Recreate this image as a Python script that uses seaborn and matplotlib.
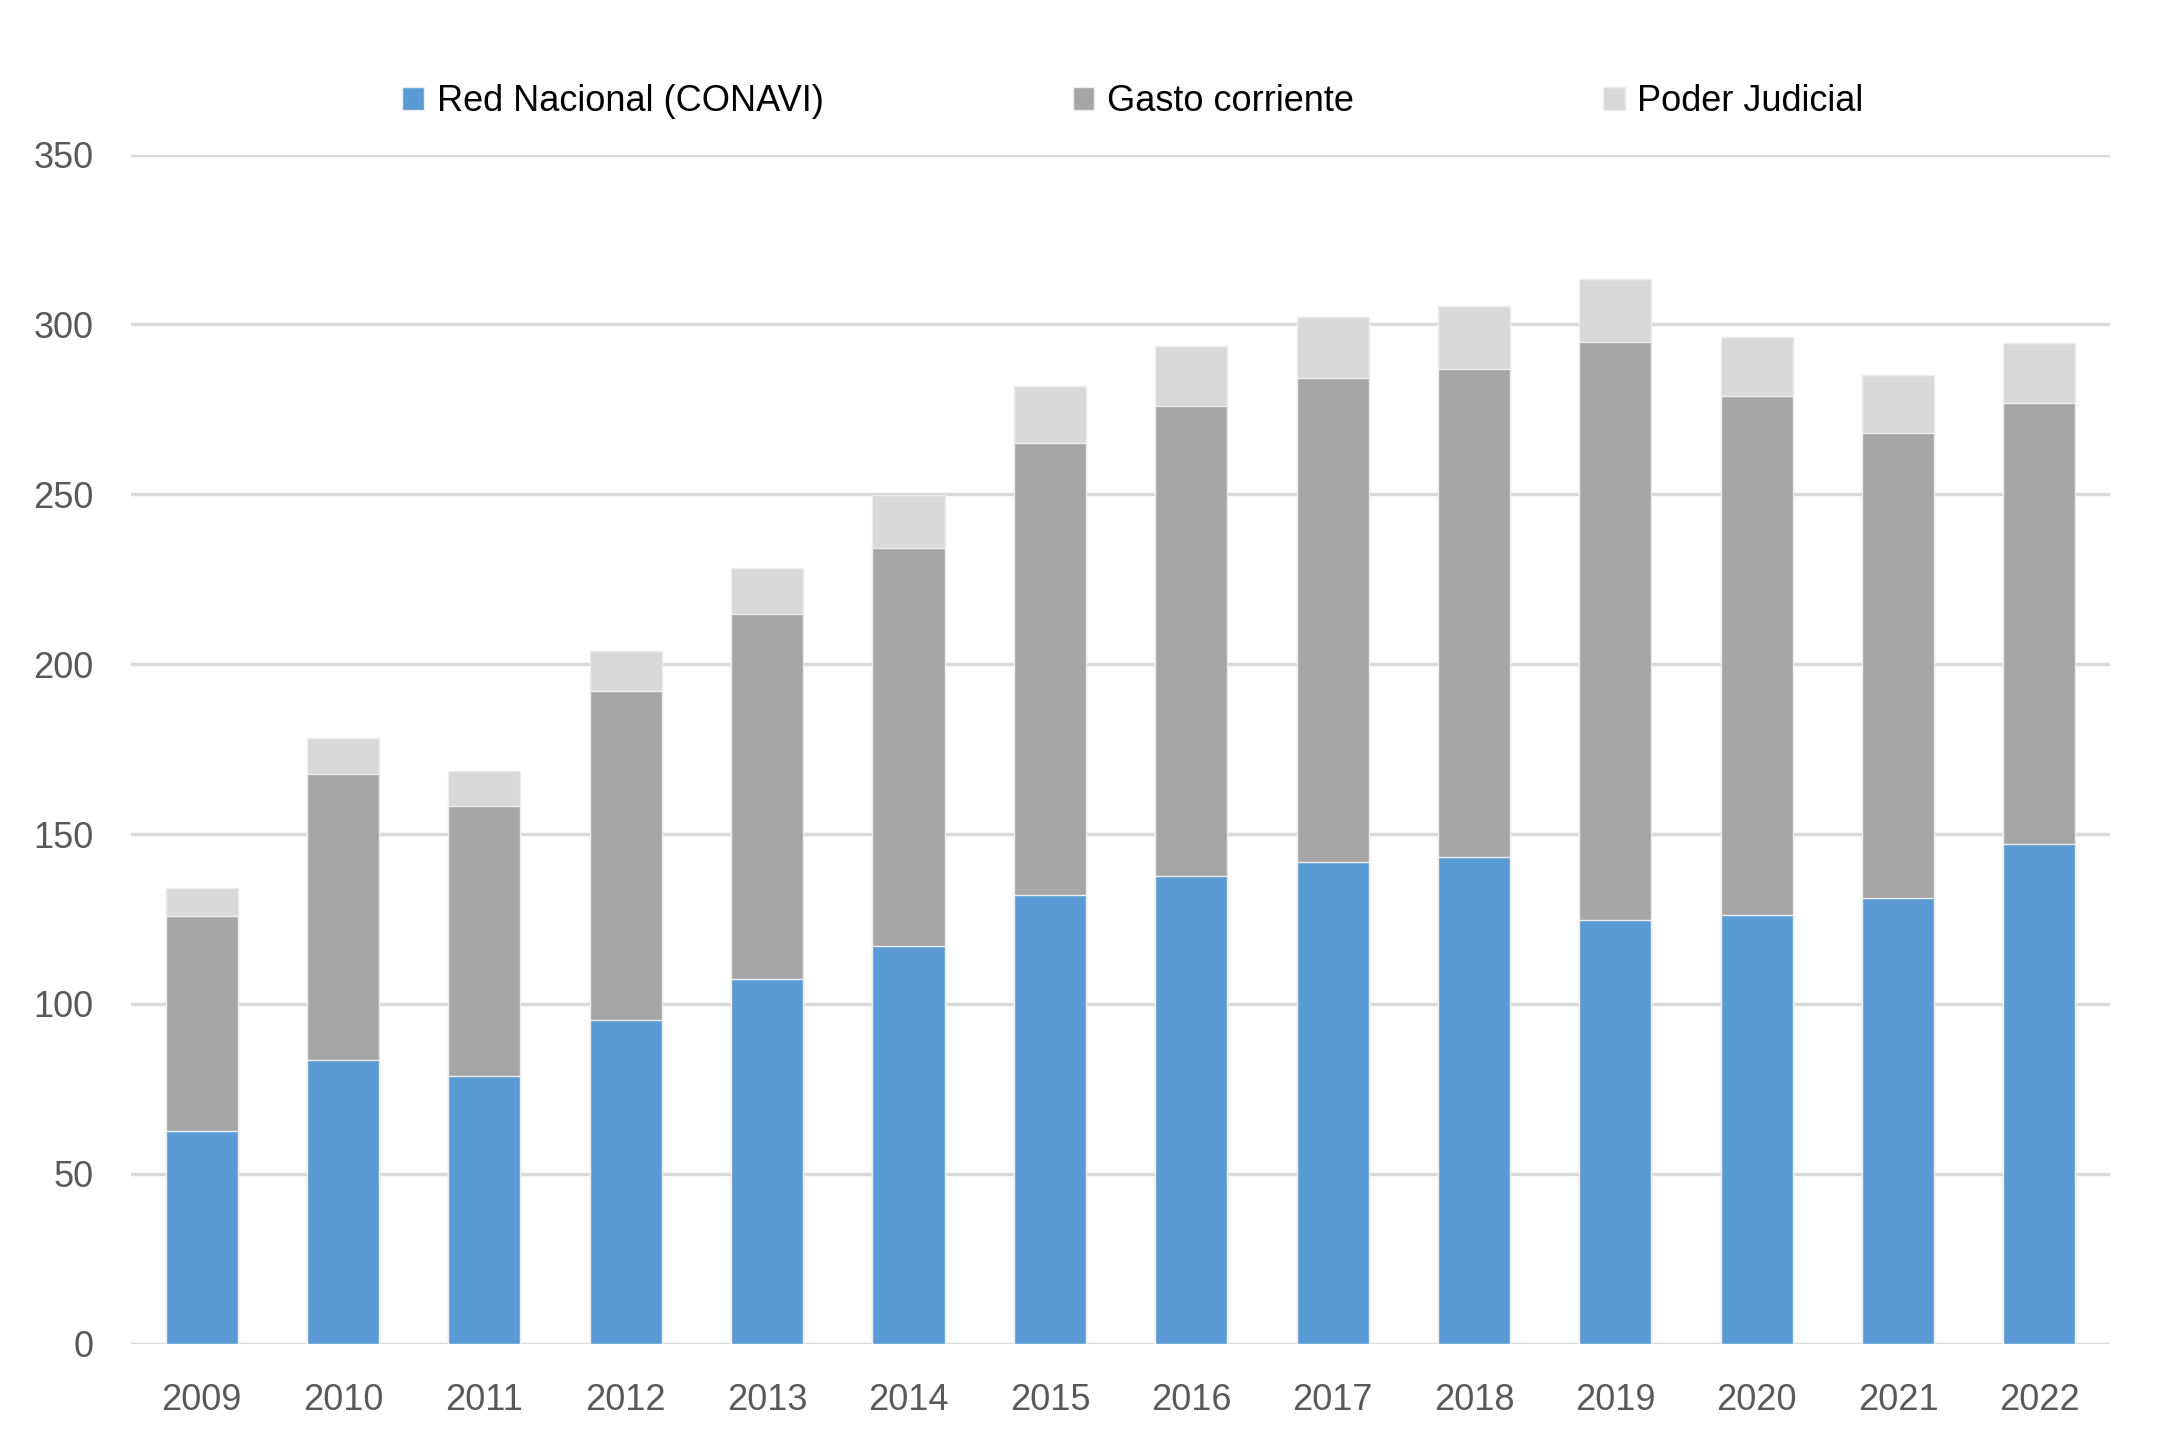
import numpy as np
import pandas as pd
import matplotlib.pyplot as plt
import seaborn as sns

# datos
anios = ['2009', '2010', '2011', '2012', '2013', '2014', '2015',
         '2016', '2017', '2018', '2019', '2020', '2021', '2022']
red_nacional = [62.5, 83.6, 78.8, 95.4, 107.2, 116.9, 132.0,
                137.6, 141.7, 143.3, 124.6, 126.3, 131.1, 147.0]
gasto_corriente = [63.4, 84.1, 79.5, 96.6, 107.6, 117.4, 133.1,
                   138.5, 142.5, 143.7, 170.2, 152.6, 136.9, 129.9]
poder_judicial = [8.1, 10.5, 10.2, 11.8, 13.4, 15.4, 16.7,
                  17.4, 17.9, 18.3, 18.6, 17.5, 17.0, 17.5]

series = ['Red Nacional (CONAVI)', 'Gasto corriente', 'Poder Judicial']
colores = ['#5B9BD5', '#A5A5A5', '#D9D9D9']

df = pd.DataFrame({
    'anio': anios,
    series[0]: red_nacional,
    series[1]: gasto_corriente,
    series[2]: poder_judicial,
})
# acumulados para apilar
acum = df[series].cumsum(axis=1)

sns.set_style('white')
plt.rcParams['font.family'] = ['Liberation Sans', 'DejaVu Sans']

fig = plt.figure(figsize=(21.62, 14.51), dpi=100)
ax = fig.add_axes([0.0606, 0.074, 0.9154, 0.8195])

for serie, color in reversed(list(zip(series, colores))):
    sns.barplot(x=df['anio'], y=acum[serie], color=color, width=0.51,
                saturation=1, edgecolor='#EDEDED', linewidth=1,
                label=serie, ax=ax, zorder=2, legend=False)

ax.set_ylim(0, 350)
ax.set_yticks(np.arange(0, 351, 50))
ax.set_xlim(-0.5, len(anios) - 0.5)
ax.yaxis.grid(True, color='#D9D9D9', linewidth=2.5, zorder=0)
ax.set_axisbelow(True)
for s in ax.spines.values():
    s.set_visible(False)
ax.set_xlabel('')
ax.set_ylabel('')
ax.tick_params(axis='both', length=0, labelsize=26, labelcolor='#595959')
ax.tick_params(axis='x', pad=28)
ax.tick_params(axis='y', pad=27)
if ax.get_legend() is not None:
    ax.get_legend().remove()

handles, labels = ax.get_legend_handles_labels()
orden = [labels.index(s) for s in series]
fig.legend([handles[i] for i in orden], [labels[i] for i in orden],
           loc='center', bbox_to_anchor=(0.524, 0.930), ncol=3,
           frameon=False, fontsize=26, handlelength=0.6, handleheight=0.6,
           handletextpad=0.35, columnspacing=6.9, labelcolor='black')

fig.savefig('out.png', dpi=100)
